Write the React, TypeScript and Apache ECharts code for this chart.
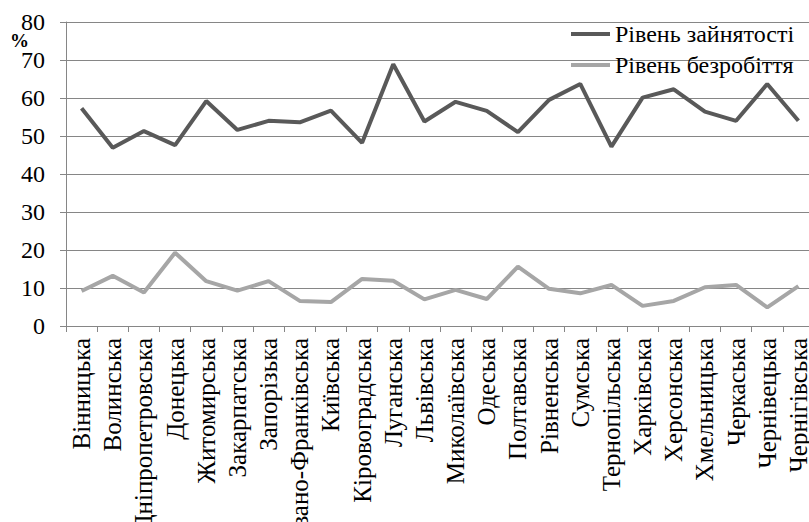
import React, { useEffect, useRef } from "react";
import * as echarts from "echarts";

const regions = [
  "Вінницька", "Волинська", "Дніпропетровська", "Донецька", "Житомирська",
  "Закарпатська", "Запорізька", "Івано-Франківська", "Київська", "Кіровоградська",
  "Луганська", "Львівська", "Миколаївська", "Одеська", "Полтавська",
  "Рівненська", "Сумська", "Тернопільська", "Харківська", "Херсонська",
  "Хмельницька", "Черкаська", "Чернівецька", "Чернігівська",
];

const employment = [
  57.3, 46.9, 51.3, 47.6, 59.2, 51.6, 54.0, 53.6, 56.7, 48.2,
  68.9, 53.8, 59.0, 56.6, 51.0, 59.5, 63.7, 47.2, 60.1, 62.3,
  56.4, 54.0, 63.7, 54.0,
];

const unemployment = [
  9.2, 13.2, 8.8, 19.3, 11.8, 9.3, 11.8, 6.6, 6.3, 12.4,
  11.9, 7.0, 9.5, 7.1, 15.6, 9.8, 8.6, 10.8, 5.3, 6.6,
  10.2, 10.8, 4.9, 10.5,
];

const seriesNames = ["Рівень зайнятості", "Рівень безробіття"];
const yUnit = "%";

const FONT = "Times New Roman, Liberation Serif, serif";

export default function App() {
  const ref = useRef<HTMLDivElement>(null);
  useEffect(() => {
    if (!ref.current) return;
    const chart = echarts.init(ref.current, undefined, { renderer: "svg" });
    chart.setOption({
      animation: false,
      backgroundColor: "#ffffff",
      textStyle: { fontFamily: FONT },
      grid: {
        left: 66,
        top: 22,
        width: 748,
        height: 304,
        containLabel: false,
        outerBoundsMode: "none",
      },
      legend: {
        orient: "vertical",
        left: 566,
        top: 17,
        itemWidth: 39,
        itemHeight: 4,
        itemGap: 7,
        icon: "rect",
        textStyle: { fontFamily: FONT, fontSize: 24, color: "#000", lineHeight: 24 },
        data: seriesNames,
      },
      xAxis: {
        type: "category",
        data: regions,
        boundaryGap: true,
        axisLine: { show: true, lineStyle: { color: "#868686", width: 1 } },
        axisTick: { show: true, length: 6, alignWithLabel: false, lineStyle: { color: "#868686" } },
        axisLabel: {
          rotate: 90,
          interval: 0,
          margin: 12,
          fontFamily: FONT,
          fontSize: 25,
          color: "#000",
        },
        splitLine: { show: false },
      },
      yAxis: {
        type: "value",
        min: 0,
        max: 80,
        interval: 10,
        axisLine: { show: true, lineStyle: { color: "#868686", width: 1 } },
        axisTick: { show: true, length: 6, lineStyle: { color: "#868686" } },
        axisLabel: { margin: 21, fontFamily: FONT, fontSize: 24, lineHeight: 16, color: "#000" },
        splitLine: { show: true, lineStyle: { color: "#868686", width: 1 } },
      },
      graphic: [
        {
          type: "text",
          left: 10,
          top: 31,
          style: {
            text: yUnit,
            fontFamily: FONT,
            fontSize: 19,
            lineHeight: 15,
            fontWeight: "bold",
            fill: "#000",
          },
        },
      ],
      series: [
        {
          name: seriesNames[0],
          type: "line",
          data: employment,
          symbol: "none",
          lineStyle: { color: "#595959", width: 4 },
          itemStyle: { color: "#595959" },
        },
        {
          name: seriesNames[1],
          type: "line",
          data: unemployment,
          symbol: "none",
          lineStyle: { color: "#a6a6a6", width: 4 },
          itemStyle: { color: "#a6a6a6" },
        },
      ],
    });
    return () => chart.dispose();
  }, []);
  return (
    <div
      ref={ref}
      style={{ position: "fixed", left: 0, top: 0, width: 809, height: 522, background: "#fff" }}
    />
  );
}
